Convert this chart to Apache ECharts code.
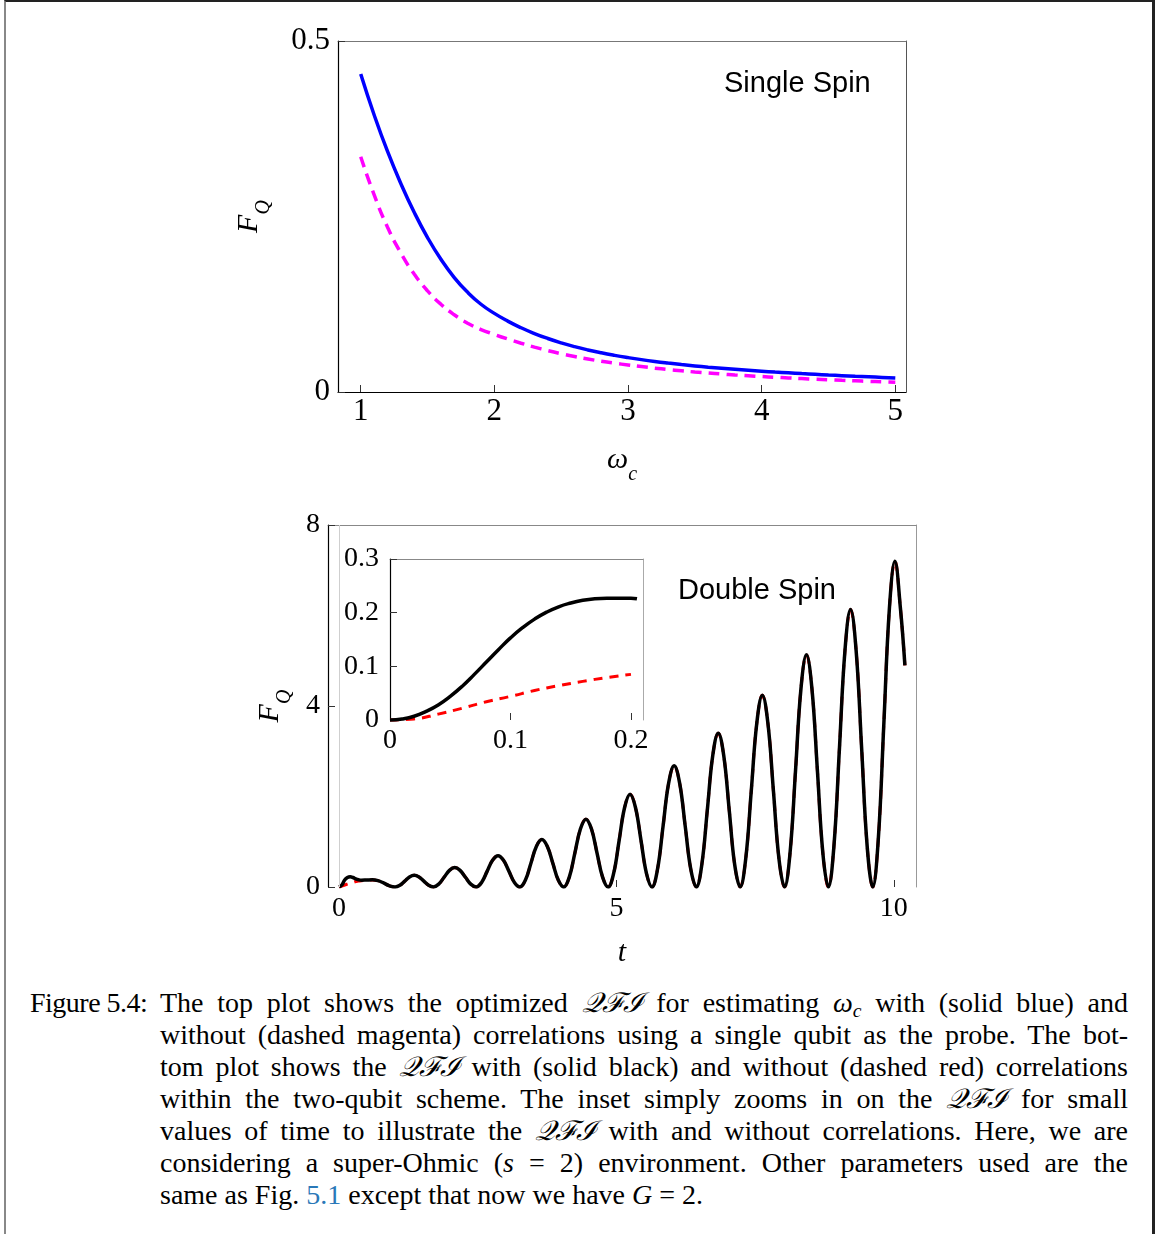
<!DOCTYPE html>
<html>
<head>
<meta charset="utf-8">
<title>Figure 5.4</title>
<script src="https://cdn.jsdelivr.net/npm/echarts@6/dist/echarts.min.js"></script>
<style>
html, body { margin:0; padding:0; background:#fff; overflow:hidden; }
#page { position:absolute; left:4px; top:0; width:1146px; height:1260px; border-left:2px solid #888; border-top:2px solid #222; border-right:3px solid #222; }
#chart { position:absolute; left:0; top:0; width:1158px; height:980px; }
#caption { position:absolute; left:0; top:987px; font-family:"Liberation Serif", "Times New Roman", serif; font-size:28px; line-height:32px; color:#000; }
#caption .lab { position:absolute; left:30px; top:0; white-space:nowrap; letter-spacing:-0.5px; }
#caption .body { position:absolute; left:160px; top:0; width:968px; }
#caption .ln { text-align:justify; text-align-last:justify; height:32px; white-space:nowrap; }
#caption .ln.last { text-align:left; text-align-last:left; }
#caption i { font-style:italic; }
#caption sub { font-size:0.7em; vertical-align:-0.25em; line-height:0; }
#caption .cal { font-style:italic; }
#caption a { color:#2a78b8; text-decoration:none; }
</style>
</head>
<body>
<div id="page"></div>
<div id="chart"></div>
<div id="caption">
  <div class="lab">Figure 5.4:</div>
  <div class="body">
    <div class="ln">The top plot shows the optimized <span class="cal">𝒬ℱℐ</span> for estimating <i>ω<sub>c</sub></i> with (solid blue) and</div>
    <div class="ln">without (dashed magenta) correlations using a single qubit as the probe. The bot-</div>
    <div class="ln">tom plot shows the <span class="cal">𝒬ℱℐ</span> with (solid black) and without (dashed red) correlations</div>
    <div class="ln">within the two-qubit scheme. The inset simply zooms in on the <span class="cal">𝒬ℱℐ</span> for small</div>
    <div class="ln">values of time to illustrate the <span class="cal">𝒬ℱℐ</span> with and without correlations. Here, we are</div>
    <div class="ln">considering a super-Ohmic (<i>s</i> = 2) environment. Other parameters used are the</div>
    <div class="ln last">same as Fig. <a>5.1</a> except that now we have <i>G</i> = 2.</div>
  </div>
</div>
<script>
// ---------- values ----------
// top plot: single spin, F_Q vs omega_c (step 0.1)
var omega = [1, 1.1, 1.2, 1.3, 1.4, 1.5, 1.6, 1.7, 1.8, 1.9,
             2, 2.1, 2.2, 2.3, 2.4, 2.5, 2.6, 2.7, 2.8, 2.9,
             3, 3.1, 3.2, 3.3, 3.4, 3.5, 3.6, 3.7, 3.8, 3.9,
             4, 4.1, 4.2, 4.3, 4.4, 4.5, 4.6, 4.7, 4.8, 4.9, 5];
var fqSingleCorr = [0.453, 0.395, 0.343, 0.297, 0.256, 0.220, 0.189, 0.163, 0.142, 0.125,
                    0.112, 0.101, 0.0915, 0.0833, 0.0762, 0.070, 0.0646, 0.0599, 0.0558, 0.0522,
                    0.049, 0.0461, 0.0435, 0.0412, 0.0391, 0.0372, 0.0354, 0.0338, 0.0323, 0.0309,
                    0.0296, 0.0284, 0.0273, 0.0262, 0.0252, 0.0242, 0.0233, 0.0224, 0.0216, 0.0208, 0.020];
var fqSingleUncorr = [0.335, 0.281, 0.235, 0.198, 0.168, 0.144, 0.125, 0.110, 0.098, 0.089,
                      0.082, 0.0755, 0.0695, 0.064, 0.059, 0.0545, 0.0505, 0.047, 0.0438, 0.041,
                      0.0385, 0.0362, 0.034, 0.032, 0.0302, 0.0285, 0.027, 0.0256, 0.0243, 0.0231,
                      0.022, 0.021, 0.020, 0.0191, 0.0182, 0.0174, 0.0166, 0.0159, 0.0152, 0.0146, 0.014];

// bottom plot: double spin, F_Q vs t (first wiggles, then the big oscillation)
var tEarly = [0, 0.05, 0.1, 0.15, 0.2, 0.25, 0.3, 0.35, 0.4, 0.5, 0.6, 0.7, 0.8, 0.9];
var fqDoubleCorrEarly = [0, 0.045, 0.155, 0.21, 0.226, 0.21, 0.18, 0.16, 0.15, 0.155, 0.16, 0.14, 0.09, 0.03];
var fqDoubleUncorrEarly = [0, 0.02, 0.044, 0.065, 0.085, 0.1, 0.12, 0.13, 0.14, 0.15, 0.155, 0.14, 0.09, 0.03];
var tOsc = [
  1.01, 1.096, 1.183, 1.269, 1.355, 1.441, 1.528, 1.614,
  1.70, 1.796, 1.893, 1.989, 2.085, 2.181, 2.278, 2.374,
  2.47, 2.569, 2.668, 2.766, 2.865, 2.964, 3.063, 3.161,
  3.26, 3.359, 3.458, 3.556, 3.655, 3.754, 3.853, 3.951,
  4.05, 4.15, 4.25, 4.35, 4.45, 4.55, 4.65, 4.75,
  4.85, 4.949, 5.048, 5.146, 5.245, 5.344, 5.443, 5.541,
  5.64, 5.74, 5.84, 5.94, 6.04, 6.14, 6.24, 6.34,
  6.44, 6.539, 6.638, 6.736, 6.835, 6.934, 7.033, 7.131,
  7.23, 7.33, 7.43, 7.53, 7.63, 7.73, 7.83, 7.93,
  8.03, 8.129, 8.228, 8.326, 8.425, 8.524, 8.623, 8.721,
  8.82, 8.92, 9.02, 9.12, 9.22, 9.32, 9.42, 9.52,
  9.62, 9.72, 9.82, 9.92, 10.02, 10.12, 10.2
];
var fqOsc = [
  0, 0.038, 0.13, 0.222, 0.26, 0.222, 0.13, 0.038,
  0, 0.063, 0.215, 0.367, 0.43, 0.367, 0.215, 0.063,
  0, 0.101, 0.345, 0.589, 0.69, 0.589, 0.345, 0.101,
  0, 0.153, 0.525, 0.897, 1.05, 0.897, 0.525, 0.153,
  0, 0.219, 0.75, 1.281, 1.5, 1.281, 0.75, 0.219,
  0, 0.299, 1.025, 1.751, 2.05, 1.751, 1.025, 0.299,
  0, 0.391, 1.34, 2.289, 2.68, 2.289, 1.34, 0.391,
  0, 0.496, 1.7, 2.904, 3.4, 2.904, 1.7, 0.496,
  0, 0.619, 2.12, 3.621, 4.24, 3.621, 2.12, 0.619,
  0, 0.749, 2.565, 4.381, 5.13, 4.381, 2.565, 0.749,
  0, 0.895, 3.065, 5.235, 6.13, 5.235, 3.065, 0.895,
  0, 1.051, 3.6, 6.149, 7.2, 6.149, 4.9
];

// inset: small t
var tInset = [0, 0.01, 0.02, 0.03, 0.04, 0.05, 0.06, 0.07, 0.08, 0.09, 0.1, 0.11, 0.12, 0.13, 0.14, 0.15, 0.16, 0.17, 0.18, 0.19, 0.2, 0.205];
var fqInsetCorr = [0, 0.002, 0.007, 0.016, 0.028, 0.044, 0.063, 0.085, 0.108, 0.131, 0.153, 0.172, 0.188, 0.201, 0.211, 0.218, 0.223, 0.226, 0.227, 0.227, 0.227, 0.226];
var tInsetRed = [0, 0.02, 0.04, 0.06, 0.08, 0.1, 0.12, 0.14, 0.16, 0.18, 0.2];
var fqInsetUncorr = [0, 0.002, 0.011, 0.022, 0.034, 0.044, 0.055, 0.064, 0.072, 0.079, 0.085];

// tick values
var topXTicks = [1, 2, 3, 4, 5];
var topYTicks = [0, 0.5];
var botXLabels = [0, 5, 10];
var botXTicks = [5, 10];
var botYTicks = [0, 4, 8];
var insetXTicks = [0, 0.1, 0.2];
var insetYTicks = [0, 0.1, 0.2, 0.3];

function pairs(xs, ys) {
  var out = [];
  for (var i = 0; i < xs.length; i++) out.push([xs[i], ys[i]]);
  return out;
}

var serif = '"Liberation Serif", "Times New Roman", serif';
var sans = '"Liberation Sans", Arial, sans-serif';

var nameRich = {
  big: { fontFamily: serif, fontStyle: 'italic', fontSize: 30, color: '#000', lineHeight: 40, verticalAlign: 'top' },
  sub: { fontFamily: serif, fontStyle: 'italic', fontSize: 20, color: '#000', lineHeight: 20, verticalAlign: 'bottom' }
};

// plain line used for the grey top / right edges of a frame
function frameAxis(grid, pos, color, mn, mx) {
  return {
    type: 'value', gridIndex: grid, position: pos, min: mn, max: mx,
    axisLine: { show: true, onZero: false, lineStyle: { color: color, width: 1 } },
    axisTick: { show: false }, axisLabel: { show: false }, splitLine: { show: false }
  };
}

function mainAxis(grid, pos, mn, mx, ticks, labels, fontSize, lineColor, margin) {
  return {
    type: 'value', gridIndex: grid, position: pos, min: mn, max: mx,
    axisLine: { show: lineColor !== null, onZero: false, lineStyle: { color: lineColor || '#000', width: 1.2 } },
    axisTick: { show: true, inside: true, length: 7, customValues: ticks, lineStyle: { color: '#333', width: 1 } },
    axisLabel: { show: true, customValues: labels, margin: margin, color: '#000', fontFamily: serif, fontSize: fontSize },
    splitLine: { show: false }
  };
}

var myChart = echarts.init(document.getElementById('chart'), null, { renderer: 'canvas' });

var xTop = mainAxis(0, 'bottom', 0.83, 5.08, topXTicks, topXTicks, 31, '#000', 4);
xTop.name = '{big|ω}{sub|c}';
xTop.nameLocation = 'middle';
xTop.nameGap = 53;
xTop.nameTextStyle = { rich: nameRich };

var yTop = mainAxis(0, 'left', 0, 0.5, topYTicks, topYTicks, 31, '#000', 8);
yTop.name = '{big|F}{sub|Q}';
yTop.nameLocation = 'middle';
yTop.nameRotate = 90;
yTop.nameGap = 64;
yTop.nameTextStyle = { rich: nameRich };

var xBot = mainAxis(1, 'bottom', -0.2, 10.4, botXTicks, botXLabels, 28, null, 8);
xBot.name = '{big|t}';
xBot.nameLocation = 'middle';
xBot.nameGap = 51;
xBot.nameTextStyle = { rich: nameRich };

var yBot = mainAxis(1, 'left', 0, 8, botYTicks, botYTicks, 28, '#000', 8);
yBot.name = '{big|F}{sub|Q}';
yBot.nameLocation = 'middle';
yBot.nameRotate = 90;
yBot.nameGap = 32;
yBot.nameTextStyle = { rich: nameRich };

var xIn = mainAxis(2, 'bottom', 0, 0.21, insetXTicks.slice(1), insetXTicks, 28, null, 7);
var yIn = mainAxis(2, 'left', 0, 0.3, insetYTicks, insetYTicks, 28, '#000', 11);

var option = {
  animation: false,
  backgroundColor: 'transparent',
  grid: [
    { left: 338, top: 41, width: 568, height: 351, outerBoundsMode: 'none' },
    { left: 328, top: 525, width: 588, height: 362, outerBoundsMode: 'none' },
    { left: 390, top: 559, width: 253, height: 161, outerBoundsMode: 'none' }
  ],
  xAxis: [
    xTop, frameAxis(0, 'top', '#777', 0.83, 5.08),
    xBot, frameAxis(1, 'top', '#888', -0.2, 10.4),
    xIn, frameAxis(2, 'top', '#888', 0, 0.21)
  ],
  yAxis: [
    yTop, frameAxis(0, 'right', '#555', 0, 0.5),
    yBot, frameAxis(1, 'right', '#999', 0, 8),
    yIn, frameAxis(2, 'right', '#aaa', 0, 0.3)
  ],
  graphic: [
    { type: 'text', x: 724, y: 84, style: { text: 'Single Spin', font: '29px ' + sans, fill: '#000', verticalAlign: 'middle' } },
    { type: 'text', x: 678, y: 591, style: { text: 'Double Spin', font: '29px ' + sans, fill: '#000', verticalAlign: 'middle' } }
  ],
  series: [
    {
      name: 'single, with correlations', type: 'line', xAxisIndex: 0, yAxisIndex: 0,
      data: pairs(omega, fqSingleCorr), smooth: 0.5, showSymbol: false,
      lineStyle: { color: '#0000ff', width: 3.5 }
    },
    {
      name: 'single, without correlations', type: 'line', xAxisIndex: 0, yAxisIndex: 0,
      data: pairs(omega, fqSingleUncorr), smooth: 0.5, showSymbol: false,
      lineStyle: { color: '#ff00ff', width: 3.5, type: [11, 7] }
    },
    {
      name: 'double, without correlations', type: 'line', xAxisIndex: 2, yAxisIndex: 2,
      data: pairs(tEarly.concat(tOsc), fqDoubleUncorrEarly.concat(fqOsc)), smooth: 0.4, showSymbol: false,
      lineStyle: { color: '#ff0000', width: 3, type: [9, 7] },
      markLine: {
        silent: true, symbol: 'none', label: { show: false },
        lineStyle: { color: '#cfcfcf', width: 1, type: 'solid' },
        data: [{ xAxis: 0 }]
      }
    },
    {
      name: 'double, with correlations', type: 'line', xAxisIndex: 2, yAxisIndex: 2,
      data: pairs(tEarly.concat(tOsc), fqDoubleCorrEarly.concat(fqOsc)), smooth: 0.4, showSymbol: false,
      lineStyle: { color: '#000', width: 3.5 }
    },
    {
      name: 'inset, without correlations', type: 'line', xAxisIndex: 4, yAxisIndex: 4,
      data: pairs(tInsetRed, fqInsetUncorr), smooth: 0.5, showSymbol: false, clip: false,
      lineStyle: { color: '#ff0000', width: 3, type: [9, 7] }
    },
    {
      name: 'inset, with correlations', type: 'line', xAxisIndex: 4, yAxisIndex: 4,
      data: pairs(tInset, fqInsetCorr), smooth: 0.5, showSymbol: false, clip: false,
      lineStyle: { color: '#000', width: 3.5 }
    }
  ]
};

myChart.setOption(option);
window.addEventListener('resize', function () {
  myChart.resize();
});
</script>
</body>
</html>
